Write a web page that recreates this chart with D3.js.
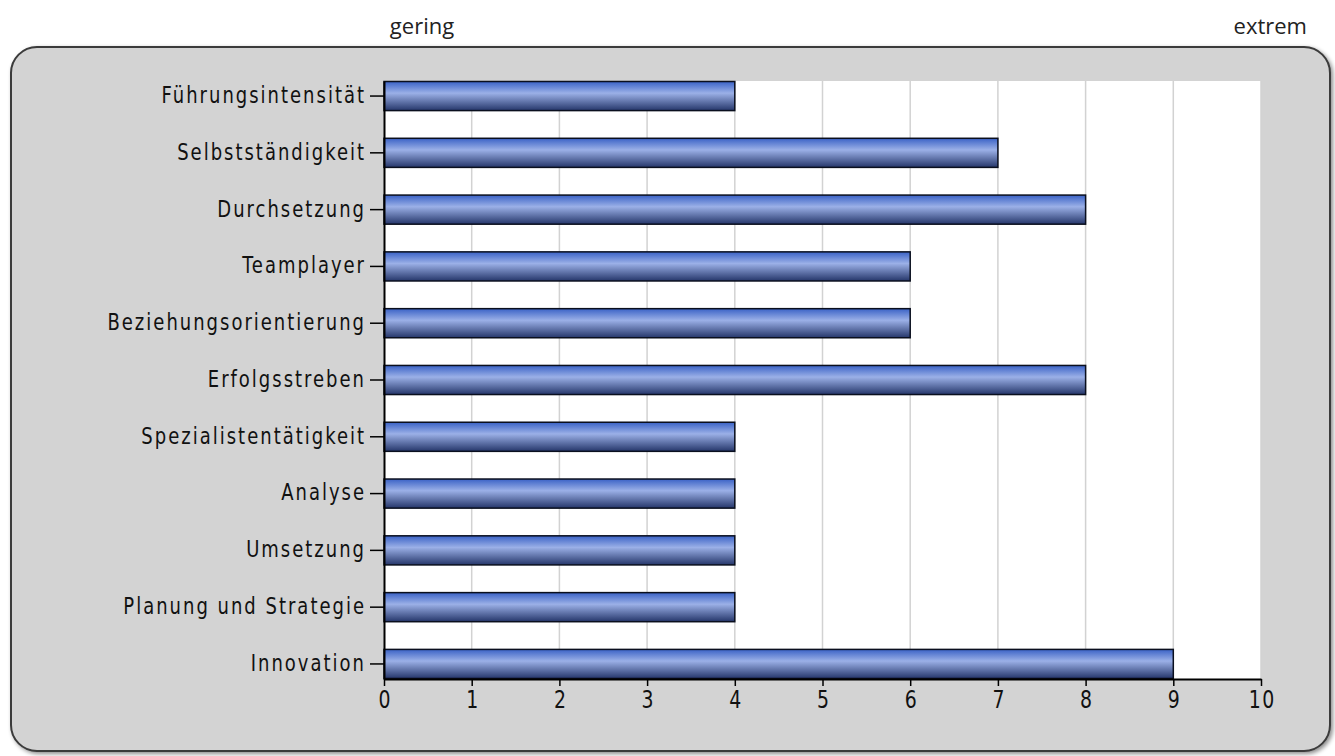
<!DOCTYPE html>
<html>
<head>
<meta charset="utf-8">
<script src="https://cdn.jsdelivr.net/npm/d3@7"></script>
<style>
  html, body { margin: 0; padding: 0; background: #ffffff; }
  .cat text { font-family: "DejaVu Sans Condensed", "DejaVu Sans", sans-serif; font-stretch: condensed; font-size: 20px; letter-spacing: 2px; fill: #111; }
  .val text { font-family: "DejaVu Sans Condensed", "DejaVu Sans", sans-serif; font-stretch: condensed; font-size: 21px; letter-spacing: 1.5px; fill: #111; }
  .end { font-family: "Open Sans", sans-serif; font-size: 22px; fill: #222; }
</style>
</head>
<body>
<div id="chart"></div>
<script>
// categories top to bottom and their values
var categories = ["Führungsintensität", "Selbstständigkeit", "Durchsetzung", "Teamplayer",
    "Beziehungsorientierung", "Erfolgsstreben", "Spezialistentätigkeit", "Analyse",
    "Umsetzung", "Planung und Strategie", "Innovation"];
var values = [4, 7, 8, 6, 6, 8, 4, 4, 4, 4, 9];
var xTicks = [0, 1, 2, 3, 4, 5, 6, 7, 8, 9, 10];
var scaleLabels = ["gering", "extrem"];

var width = 1335, height = 756;
var plot = {left: 384, right: 1261, top: 81, bottom: 679};

var svg = d3.select("#chart").append("svg")
    .attr("width", width)
    .attr("height", height);

var defs = svg.append("defs");

var shadow = defs.append("filter").attr("id", "shadow")
    .attr("x", "-5%").attr("y", "-5%").attr("width", "110%").attr("height", "110%");
shadow.append("feDropShadow")
    .attr("dx", 2).attr("dy", 2).attr("stdDeviation", 2)
    .attr("flood-color", "#000").attr("flood-opacity", 0.45);

var grad = defs.append("linearGradient").attr("id", "barGrad")
    .attr("x1", 0).attr("y1", 0).attr("x2", 0).attr("y2", 1);
grad.append("stop").attr("offset", "0%").attr("stop-color", "#3a62c6");
grad.append("stop").attr("offset", "40%").attr("stop-color", "#9bb0e7");
grad.append("stop").attr("offset", "100%").attr("stop-color", "#25366a");

// the rounded grey panel
svg.append("rect")
    .attr("x", 11).attr("y", 47)
    .attr("width", 1319).attr("height", 704)
    .attr("rx", 26).attr("ry", 26)
    .attr("fill", "#d3d3d3")
    .attr("stroke", "#3a3a3a")
    .attr("stroke-width", 2)
    .attr("filter", "url(#shadow)");

// top labels
svg.append("text").attr("class", "end")
    .attr("x", 422).attr("y", 34)
    .attr("text-anchor", "middle")
    .text(scaleLabels[0]);
svg.append("text").attr("class", "end")
    .attr("x", 1307).attr("y", 34)
    .attr("text-anchor", "end")
    .text(scaleLabels[1]);

var x = d3.scaleLinear()
    .domain([0, 10])
    .range([plot.left, plot.right]);

var y = d3.scaleBand()
    .domain(categories)
    .range([plot.top, plot.bottom])
    .paddingInner(0.47)
    .paddingOuter(0);

// plot background
svg.append("rect")
    .attr("x", plot.left).attr("y", plot.top)
    .attr("width", plot.right - plot.left)
    .attr("height", plot.bottom - plot.top)
    .attr("fill", "#ffffff");

// vertical grid
svg.append("g").selectAll("line")
    .data(xTicks.slice(1))
    .enter().append("line")
    .attr("x1", function(d){ return x(d); })
    .attr("x2", function(d){ return x(d); })
    .attr("y1", plot.top)
    .attr("y2", plot.bottom)
    .attr("stroke", "#d2d2d2")
    .attr("stroke-width", 1.5);

// bars
svg.append("g").selectAll("rect")
    .data(categories)
    .enter().append("rect")
    .attr("x", x(0))
    .attr("y", function(d){ return y(d) + 0.5; })
    .attr("width", function(d, i){ return x(values[i]) - x(0); })
    .attr("height", y.bandwidth() - 1)
    .attr("fill", "url(#barGrad)")
    .attr("stroke", "#0a0f1e")
    .attr("stroke-width", 1.5);

// axes
var xAxis = svg.append("g").attr("class", "val")
    .attr("transform", "translate(0," + plot.bottom + ")")
    .call(d3.axisBottom(x).tickValues(xTicks).tickSize(7).tickSizeOuter(0)
        .tickPadding(3).tickFormat(d3.format("d")));

var yAxis = svg.append("g").attr("class", "cat")
    .attr("transform", "translate(" + plot.left + ",0)")
    .call(d3.axisLeft(y).tickSize(14).tickSizeOuter(0).tickPadding(4));

[xAxis, yAxis].forEach(function(g){
    g.select(".domain").attr("stroke", "#000").attr("stroke-width", 2);
    g.selectAll(".tick line").attr("stroke", "#000").attr("stroke-width", 1.5);
    g.selectAll("text").attr("font-family", null).attr("font-size", null)
        .attr("transform", "scale(1,1.15)");  // the original lettering is taller than it is wide
});
// letter-spacing adds space after the last glyph; nudge centred tick labels back
xAxis.selectAll("text").attr("dx", "0.75px");
yAxis.selectAll("text").attr("dy", "0.3em");
</script>
</body>
</html>
